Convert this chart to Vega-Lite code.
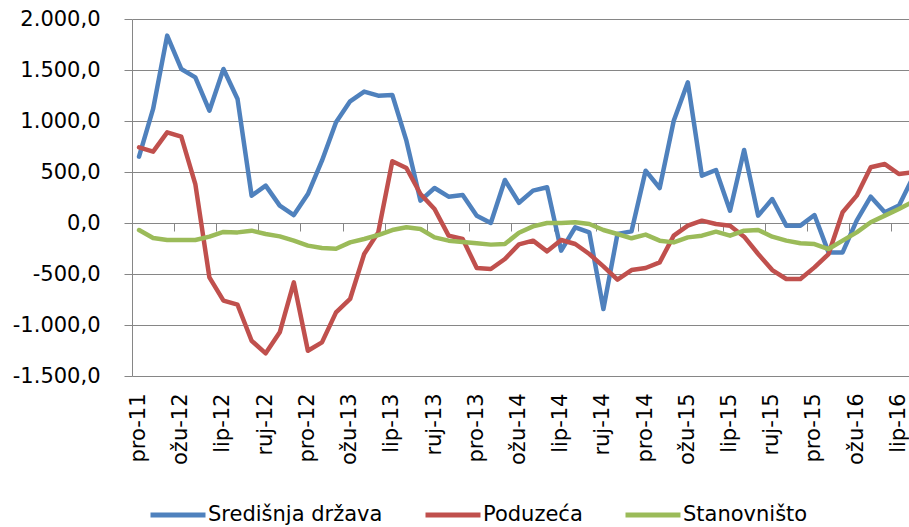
{
  "$schema": "https://vega.github.io/schema/vega-lite/v6.json",
  "width": 777,
  "height": 357,
  "autosize": {"type": "none"},
  "padding": {"left": 132, "top": 19, "right": 0, "bottom": 151},
  "config": {
    "locale": {"number": {"decimal": ",", "thousands": ".", "grouping": [3], "currency": ["", ""], "minus": "-"}},
    "view": {"stroke": null},
    "font": "DejaVu Sans"
  },
  "data": {"values": [
    {"m":"pro-11","s":"Središnja država","v":650},{"m":"sij-12","s":"Središnja država","v":1118},{"m":"velj-12","s":"Središnja država","v":1837},{"m":"ožu-12","s":"Središnja država","v":1510},{"m":"tra-12","s":"Središnja država","v":1428},{"m":"svi-12","s":"Središnja država","v":1101},{"m":"lip-12","s":"Središnja država","v":1510},{"m":"srp-12","s":"Središnja država","v":1216},{"m":"kol-12","s":"Središnja država","v":268},{"m":"ruj-12","s":"Središnja država","v":366},{"m":"lis-12","s":"Središnja država","v":170},{"m":"stu-12","s":"Središnja država","v":78},{"m":"pro-12","s":"Središnja država","v":284},
    {"m":"sij-13","s":"Središnja država","v":611},{"m":"velj-13","s":"Središnja država","v":987},{"m":"ožu-13","s":"Središnja država","v":1193},{"m":"tra-13","s":"Središnja država","v":1288},{"m":"svi-13","s":"Središnja država","v":1248},{"m":"lip-13","s":"Središnja država","v":1255},{"m":"srp-13","s":"Središnja država","v":807},{"m":"kol-13","s":"Središnja država","v":219},{"m":"ruj-13","s":"Središnja država","v":343},{"m":"lis-13","s":"Središnja država","v":258},{"m":"stu-13","s":"Središnja država","v":274},{"m":"pro-13","s":"Središnja država","v":72},
    {"m":"sij-14","s":"Središnja država","v":0},{"m":"velj-14","s":"Središnja država","v":422},{"m":"ožu-14","s":"Središnja država","v":198},{"m":"tra-14","s":"Središnja država","v":317},{"m":"svi-14","s":"Središnja država","v":350},{"m":"lip-14","s":"Središnja država","v":-271},{"m":"srp-14","s":"Središnja država","v":-42},{"m":"kol-14","s":"Središnja država","v":-92},{"m":"ruj-14","s":"Središnja država","v":-843},{"m":"lis-14","s":"Središnja država","v":-108},{"m":"stu-14","s":"Središnja država","v":-82},{"m":"pro-14","s":"Središnja država","v":513},
    {"m":"sij-15","s":"Središnja država","v":343},{"m":"velj-15","s":"Središnja država","v":1003},{"m":"ožu-15","s":"Središnja država","v":1379},{"m":"tra-15","s":"Središnja država","v":464},{"m":"svi-15","s":"Središnja država","v":520},{"m":"lip-15","s":"Središnja država","v":121},{"m":"srp-15","s":"Središnja država","v":716},{"m":"kol-15","s":"Središnja država","v":72},{"m":"ruj-15","s":"Središnja država","v":235},{"m":"lis-15","s":"Središnja država","v":-26},{"m":"stu-15","s":"Središnja država","v":-26},{"m":"pro-15","s":"Središnja država","v":78},
    {"m":"sij-16","s":"Središnja država","v":-288},{"m":"velj-16","s":"Središnja država","v":-288},{"m":"ožu-16","s":"Središnja država","v":23},{"m":"tra-16","s":"Središnja država","v":258},{"m":"svi-16","s":"Središnja država","v":105},{"m":"lip-16","s":"Središnja država","v":170},{"m":"srp-16","s":"Središnja država","v":448},

    {"m":"pro-11","s":"Poduzeća","v":742},{"m":"sij-12","s":"Poduzeća","v":700},{"m":"velj-12","s":"Poduzeća","v":889},{"m":"ožu-12","s":"Poduzeća","v":846},{"m":"tra-12","s":"Poduzeća","v":382},{"m":"svi-12","s":"Poduzeća","v":-533},{"m":"lip-12","s":"Poduzeća","v":-761},{"m":"srp-12","s":"Poduzeća","v":-801},{"m":"kol-12","s":"Poduzeća","v":-1154},{"m":"ruj-12","s":"Poduzeća","v":-1278},{"m":"lis-12","s":"Poduzeća","v":-1072},{"m":"stu-12","s":"Poduzeća","v":-582},{"m":"pro-12","s":"Poduzeća","v":-1252},
    {"m":"sij-13","s":"Poduzeća","v":-1170},{"m":"velj-13","s":"Poduzeća","v":-876},{"m":"ožu-13","s":"Poduzeća","v":-745},{"m":"tra-13","s":"Poduzeća","v":-304},{"m":"svi-13","s":"Poduzeća","v":-92},{"m":"lip-13","s":"Poduzeća","v":605},{"m":"srp-13","s":"Poduzeća","v":539},{"m":"kol-13","s":"Poduzeća","v":284},{"m":"ruj-13","s":"Poduzeća","v":137},{"m":"lis-13","s":"Poduzeća","v":-124},{"m":"stu-13","s":"Poduzeća","v":-157},{"m":"pro-13","s":"Poduzeća","v":-441},
    {"m":"sij-14","s":"Poduzeća","v":-451},{"m":"velj-14","s":"Poduzeća","v":-353},{"m":"ožu-14","s":"Poduzeća","v":-210},{"m":"tra-14","s":"Poduzeća","v":-173},{"m":"svi-14","s":"Poduzeća","v":-278},{"m":"lip-14","s":"Poduzeća","v":-167},{"m":"srp-14","s":"Poduzeća","v":-206},{"m":"kol-14","s":"Poduzeća","v":-304},{"m":"ruj-14","s":"Poduzeća","v":-425},{"m":"lis-14","s":"Poduzeća","v":-556},{"m":"stu-14","s":"Poduzeća","v":-461},{"m":"pro-14","s":"Poduzeća","v":-441},
    {"m":"sij-15","s":"Poduzeća","v":-386},{"m":"velj-15","s":"Poduzeća","v":-124},{"m":"ožu-15","s":"Poduzeća","v":-26},{"m":"tra-15","s":"Poduzeća","v":23},{"m":"svi-15","s":"Poduzeća","v":-10},{"m":"lip-15","s":"Poduzeća","v":-26},{"m":"srp-15","s":"Poduzeća","v":-134},{"m":"kol-15","s":"Poduzeća","v":-304},{"m":"ruj-15","s":"Poduzeća","v":-461},{"m":"lis-15","s":"Poduzeća","v":-549},{"m":"stu-15","s":"Poduzeća","v":-549},{"m":"pro-15","s":"Poduzeća","v":-435},
    {"m":"sij-16","s":"Poduzeća","v":-304},{"m":"velj-16","s":"Poduzeća","v":105},{"m":"ožu-16","s":"Poduzeća","v":268},{"m":"tra-16","s":"Poduzeća","v":546},{"m":"svi-16","s":"Poduzeća","v":578},{"m":"lip-16","s":"Poduzeća","v":480},{"m":"srp-16","s":"Poduzeća","v":497},

    {"m":"pro-11","s":"Stanovništo","v":-69},{"m":"sij-12","s":"Stanovništo","v":-147},{"m":"velj-12","s":"Stanovništo","v":-167},{"m":"ožu-12","s":"Stanovništo","v":-167},{"m":"tra-12","s":"Stanovništo","v":-167},{"m":"svi-12","s":"Stanovništo","v":-134},{"m":"lip-12","s":"Stanovništo","v":-88},{"m":"srp-12","s":"Stanovništo","v":-92},{"m":"kol-12","s":"Stanovništo","v":-75},{"m":"ruj-12","s":"Stanovništo","v":-108},{"m":"lis-12","s":"Stanovništo","v":-131},{"m":"stu-12","s":"Stanovništo","v":-173},{"m":"pro-12","s":"Stanovništo","v":-222},
    {"m":"sij-13","s":"Stanovništo","v":-245},{"m":"velj-13","s":"Stanovništo","v":-252},{"m":"ožu-13","s":"Stanovništo","v":-190},{"m":"tra-13","s":"Stanovništo","v":-157},{"m":"svi-13","s":"Stanovništo","v":-118},{"m":"lip-13","s":"Stanovništo","v":-69},{"m":"srp-13","s":"Stanovništo","v":-42},{"m":"kol-13","s":"Stanovništo","v":-59},{"m":"ruj-13","s":"Stanovništo","v":-141},{"m":"lis-13","s":"Stanovništo","v":-173},{"m":"stu-13","s":"Stanovništo","v":-186},{"m":"pro-13","s":"Stanovništo","v":-199},
    {"m":"sij-14","s":"Stanovništo","v":-212},{"m":"velj-14","s":"Stanovništo","v":-206},{"m":"ožu-14","s":"Stanovništo","v":-95},{"m":"tra-14","s":"Stanovništo","v":-33},{"m":"svi-14","s":"Stanovništo","v":0},{"m":"lip-14","s":"Stanovništo","v":0},{"m":"srp-14","s":"Stanovništo","v":7},{"m":"kol-14","s":"Stanovništo","v":-10},{"m":"ruj-14","s":"Stanovništo","v":-69},{"m":"lis-14","s":"Stanovništo","v":-108},{"m":"stu-14","s":"Stanovništo","v":-150},{"m":"pro-14","s":"Stanovništo","v":-114},
    {"m":"sij-15","s":"Stanovništo","v":-173},{"m":"velj-15","s":"Stanovništo","v":-190},{"m":"ožu-15","s":"Stanovništo","v":-141},{"m":"tra-15","s":"Stanovništo","v":-124},{"m":"svi-15","s":"Stanovništo","v":-85},{"m":"lip-15","s":"Stanovništo","v":-124},{"m":"srp-15","s":"Stanovništo","v":-75},{"m":"kol-15","s":"Stanovništo","v":-69},{"m":"ruj-15","s":"Stanovništo","v":-134},{"m":"lis-15","s":"Stanovništo","v":-173},{"m":"stu-15","s":"Stanovništo","v":-199},{"m":"pro-15","s":"Stanovništo","v":-206},
    {"m":"sij-16","s":"Stanovništo","v":-255},{"m":"velj-16","s":"Stanovništo","v":-173},{"m":"ožu-16","s":"Stanovništo","v":-92},{"m":"tra-16","s":"Stanovništo","v":7},{"m":"svi-16","s":"Stanovništo","v":72},{"m":"lip-16","s":"Stanovništo","v":137},{"m":"srp-16","s":"Stanovništo","v":209}
  ]},
  "layer": [
    {
      "mark": {"type": "line", "strokeWidth": 4.5, "strokeJoin": "round", "strokeCap": "round"},
      "encoding": {
        "x": {
          "field": "m", "type": "ordinal", "sort": null,
          "scale": {"type": "band", "range": [0, 788], "paddingInner": 0, "paddingOuter": 0},
          "axis": {
            "title": null,
            "values": ["pro-11","ožu-12","lip-12","ruj-12","pro-12","ožu-13","lip-13","ruj-13","pro-13","ožu-14","lip-14","ruj-14","pro-14","ožu-15","lip-15","ruj-15","pro-15","ožu-16","lip-16"],
            "labelAngle": -90, "domain": false, "ticks": false, "grid": false,
            "labelFont": "DejaVu Sans", "labelFontSize": 21, "labelColor": "#000000",
            "labelPadding": 17, "labelOverlap": false, "labelBound": false
          }
        },
        "y": {
          "field": "v", "type": "quantitative",
          "scale": {"domain": [-1500, 2000], "nice": false, "zero": false},
          "axis": {
            "title": null,
            "values": [-1500, -1000, -500, 0, 500, 1000, 1500, 2000],
            "format": ",.1f",
            "domain": true, "domainColor": "#868686", "domainWidth": 1,
            "ticks": true, "tickSize": 8, "tickColor": "#868686", "tickWidth": 1,
            "grid": true, "gridColor": "#868686", "gridWidth": 1,
            "labelFont": "DejaVu Sans", "labelFontSize": 21, "labelColor": "#000000",
            "labelPadding": 24
          }
        },
        "color": {
          "field": "s", "type": "nominal",
          "scale": {"domain": ["Središnja država", "Poduzeća", "Stanovništo"], "range": ["#4F81BD", "#C0504D", "#9BBB59"]},
          "legend": {
            "title": null, "orient": "none", "legendX": 16, "legendY": 466,
            "direction": "horizontal", "columns": 3, "gridAlign": "none",
            "symbolType": "stroke", "symbolSize": 3025, "symbolStrokeWidth": 5,
            "labelFont": "DejaVu Sans", "labelFontSize": 21, "labelColor": "#000000",
            "labelLimit": 400, "labelOffset": 0, "columnPadding": 32
          }
        },
        "order": {"value": null}
      }
    },
    {
      "mark": {"type": "point", "opacity": 0},
      "encoding": {
        "x": {
          "field": "m", "type": "ordinal", "sort": null,
          "axis": {
            "title": null, "orient": "bottom", "offset": -153,
            "values": ["pro-11","ožu-12","lip-12","ruj-12","pro-12","ožu-13","lip-13","ruj-13","pro-13","ožu-14","lip-14","ruj-14","pro-14","ožu-15","lip-15","ruj-15","pro-15","ožu-16","lip-16"],
            "bandPosition": 0, "labels": false, "grid": false,
            "domain": true, "domainColor": "#868686", "domainWidth": 1,
            "ticks": true, "tickSize": 8, "tickColor": "#868686", "tickWidth": 1
          }
        },
        "y": {"field": "v", "type": "quantitative"}
      }
    }
  ],
  "resolve": {"axis": {"x": "independent"}}
}
